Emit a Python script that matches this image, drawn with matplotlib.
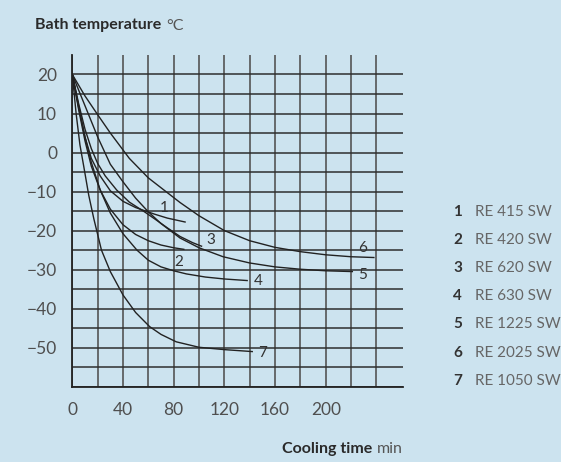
import matplotlib.pyplot as plt

plt.rcParams['font.family'] = ['Lato', 'DejaVu Sans']

# models in the legend
models = ['RE 415 SW', 'RE 420 SW', 'RE 620 SW', 'RE 630 SW',
          'RE 1225 SW', 'RE 2025 SW', 'RE 1050 SW']

# cooling curves (time in min, bath temp in degC)
t1 = [0, 5, 10, 15, 22, 30, 40, 50, 57, 65, 75, 89]
T1 = [20, 11.5, 4, -1.5, -6, -9.8, -12.5, -14.1, -14.9, -15.8, -16.8, -17.8]

t2 = [0, 5, 10, 15, 22, 30, 40, 50, 60, 70, 80, 88]
T2 = [20, 11, 3, -3.5, -9.6, -14.5, -18.5, -21, -22.6, -23.7, -24.4, -24.8]

t3 = [0, 5, 10, 15, 20, 26, 35, 45, 57, 65, 75, 85, 95, 102]
T3 = [20, 12.5, 6, 1, -2.8, -6, -9.6, -12.7, -15.2, -17, -19.3, -21.5, -23.1, -24]

t4 = [0, 5, 10, 15, 22, 30, 40, 51, 60, 70, 80, 90, 105, 120, 138]
T4 = [20, 12, 4, -2.5, -9.6, -15.5, -20.8, -25, -27.6, -29.3, -30.3, -31.1,
      -31.9, -32.4, -32.8]

t5 = [0, 10, 20, 30, 40, 50, 60, 70, 85, 100, 119, 140, 160, 180, 200, 221]
T5 = [20, 12, 4, -3, -7.5, -11.7, -15.2, -18.2, -21.9, -24.4, -26.7, -28.3,
      -29.3, -29.9, -30.3, -30.5]

t6 = [0, 10, 20, 30, 45, 60, 85, 100, 120, 140, 160, 180, 200, 220, 238]
T6 = [20, 14.5, 9.7, 5, -1.5, -6.5, -12.8, -16.2, -20, -22.6, -24.3, -25.4,
      -26.2, -26.7, -26.9]

t7 = [0, 3, 6, 9, 13, 17, 23, 30, 40, 50, 61, 70, 82, 100, 120, 142]
T7 = [20, 10, 2, -3.5, -11, -17, -25, -30.5, -36.5, -41, -44.6, -46.6, -48.5,
      -49.9, -50.5, -51]

# number labels next to the curve ends
lab_x = [72.7, 84.2, 109.3, 146.9, 229, 229, 150.3]
lab_y = [-14.3, -28, -22.4, -32.9, -31.4, -24.5, -51.3]

x_labels = [0, 40, 80, 120, 160, 200]
y_labels = [20, 10, 0, -10, -20, -30, -40, -50]

bg = '#cce3ef'
ink = '#222222'

fig = plt.figure(figsize=(5.61, 4.62), dpi=100, facecolor=bg)
ax = fig.add_axes([0.1289, 0.163, 0.5895, 0.718])
ax.set_facecolor(bg)

ax.set_xlim(0, 261)
ax.set_ylim(-60, 25)

# grid
ax.set_xticks(range(0, 241, 20))
ax.set_xticklabels([str(v) if v in x_labels else '' for v in range(0, 241, 20)])
ax.set_yticks(range(-60, 21, 5))
ax.set_yticklabels([str(v).replace('-', '\u2212') if v in y_labels else ''
                    for v in range(-60, 21, 5)])
ax.xaxis.grid(True, color='#555555', linewidth=1.2)
ax.yaxis.grid(True, color='#2e2e2e', linewidth=1.1)
ax.set_axisbelow(True)
ax.tick_params(length=0, labelsize=12.5, labelcolor='#4f4f4f')
ax.tick_params(axis='x', pad=11)
ax.tick_params(axis='y', pad=11)
for s in ['top', 'right']:
    ax.spines[s].set_visible(False)
for s in ['left', 'bottom']:
    ax.spines[s].set_color('#222222')
    ax.spines[s].set_linewidth(1.3)

curves = [(t1, T1), (t2, T2), (t3, T3), (t4, T4), (t5, T5), (t6, T6), (t7, T7)]
for t, T in curves:
    ax.plot(t, T, color=ink, linewidth=1.0, solid_joinstyle='round')

for i in range(7):
    ax.text(lab_x[i], lab_y[i], str(i + 1), fontsize=11, color='#333333',
            ha='center', va='center')

# legend on the right
for i, name in enumerate(models):
    y = 1 - (211.7 + 28.2 * i) / 462
    fig.text(0.8235, y, str(i + 1), fontsize=11, fontweight='bold',
             color='#333333', ha='right', va='center')
    fig.text(0.8467, y, name, fontsize=11, color='#666666', ha='left', va='center')

# axis titles: bold part followed by the unit in a lighter style
renderer = fig.canvas.get_renderer()
inv = fig.transFigure.inverted()

ttl = fig.text(35 / 561, 1 - 29.5 / 462, 'Bath temperature', fontsize=11.5,
               fontweight='bold', color='#2a2a2a', ha='left', va='baseline')
x_end = inv.transform((ttl.get_window_extent(renderer).x1, 0))[0]
fig.text(x_end + 5 / 561, 1 - 29.5 / 462, '°C', fontsize=11.5, color='#555555',
         ha='left', va='baseline')

unit = fig.text(403 / 561, 1 - 453 / 462, 'min', fontsize=11.5, color='#555555',
                ha='right', va='baseline')
x_start = inv.transform((unit.get_window_extent(renderer).x0, 0))[0]
fig.text(x_start - 5 / 561, 1 - 453 / 462, 'Cooling time', fontsize=11.5,
         fontweight='bold', color='#2a2a2a', ha='right', va='baseline')

plt.savefig('out.png', dpi=100, facecolor=bg)
